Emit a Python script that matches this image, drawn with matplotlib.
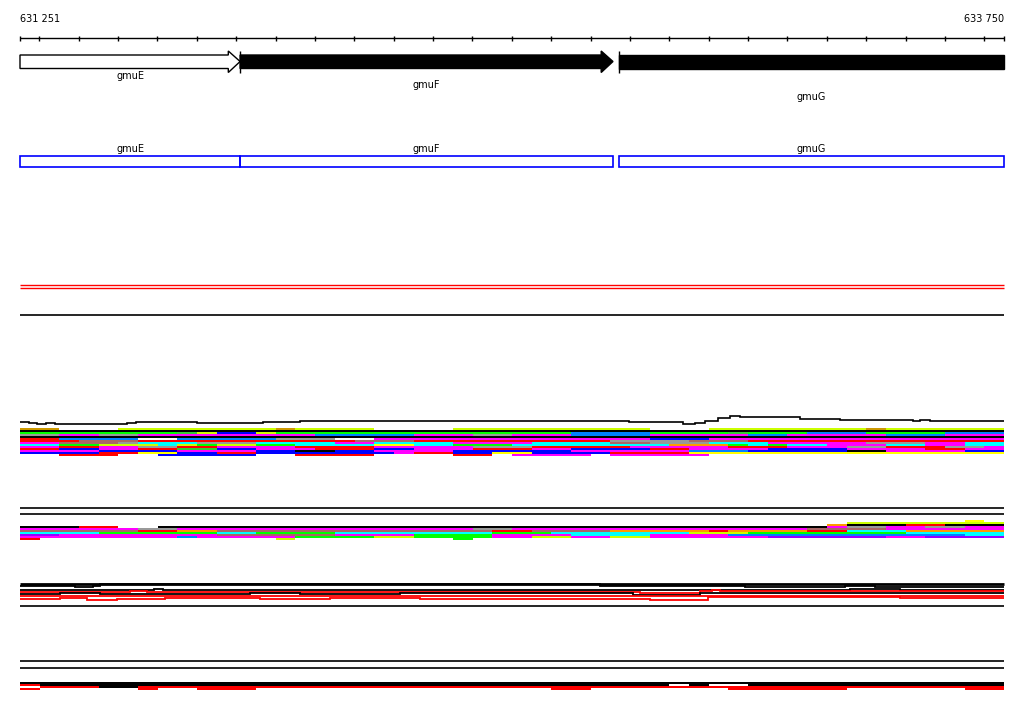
import numpy as np
import matplotlib.pyplot as plt
from matplotlib.colors import ListedColormap
from matplotlib.patches import Polygon, Rectangle

# region on screen
view_start, view_end = 631251, 633750
ticks = [631251] + list(range(631300, 633750, 100)) + [633750]

# genes
gene_names = ['gmuE', 'gmuF', 'gmuG']
gene_starts = [631251, 631810, 632772]
gene_ends = [631810, 632757, 633750]
gene_fill = ['white', 'black', 'black']
gene_open = [False, False, True]      # gmuG runs on past the view

# track 1 coverage (height above baseline, step at each edge)
cov1_edges = [631251, 631274, 631294, 631317, 631340, 631523, 631546, 631701,
              631868, 631962, 632798, 632935, 632965, 632991, 633024, 633054,
              633080, 633232, 633252, 633333, 633519, 633537, 633562, 633750]
cov1_height = [7.7, 6.7, 5.7, 6.7, 5.7, 6.7, 7.7, 6.7, 7.7, 8.7, 7.7, 6, 7, 9,
               12, 14, 12.7, 11.3, 10.7, 10, 9, 10, 9]

# stacked read rows, one char per 50 bp bin
# k black r red m magenta c cyan b blue B azure g green d dark green
# G grey y lime Y yellow o orange O olive n rose-brown p purple . none
track1_rows = [
    "OO...yyyyy" "yyyOyyyy.." "..yyyyyyyy" "yy...yyyyy" "yyyOyyyyyy",
    "kkkkkkkkkk" "kkkkkkkkkk" "kkkkkkkkkk" "kkkkkkkkkk" "kkkkkkkkkk",
    "ggggggggdy" "bbyggggggg" "ggggggggBB" "BBggggdggg" "BBBggggBBB",
    "GGmmGGmmmm" "mmmmmBBBBB" "mmmGGmmmBB" "BBmmmmmBBm" "mmmmBBBmmm",
    "kkkkkkkkkk" "kkkkkkkkkk" "kkkkkkkkkk" "kkkkkkkkkk" "kkkkkkkkkk",
    "rrBBBB..BB" "BBBGGG..mm" "mmmmmmmmmm" "mmbbbmmmmm" "mmmmmmmmmm",
    "rrrnnnrrrr" "rrrrrrrnnn" "rrrrrrrrrr" "GGGGnnnrrr" "rrrrrrrrrr",
    "mmnnnGcccG" "GGccccmmcc" "ccmmmmcccc" "nnGGGcccmm" "mmmGGGmmcc",
    "ccggyyycyg" "yyggccccYY" "ccgggccccc" "cccooogcgc" "cmmmccmmcc",
    "mmrrmmGGrr" "mmmmrrrrmm" "mmmGGGrrrr" "rmmmmmrrrm" "mmGGrrrGGm",
    "rrbbmmrrdd" "bbmmmrrrbb" "mmmrrrmmbb" "bbrrmmmmbb" "bbmmmmrrmm",
    "mmmmbbbbmm" "mmbbkkbbmm" "mmbbbbbbmm" "mmmmBBBbbb" "bbkkmmmmbb",
    "bbbbrrYYbb" "rrbbbbbbbm" "rrbbYYbbbb" "rrrrYYYYYY" "YYYYYYYYYY",
    "..rrr..bbb" "bb..rrrr.." "..rr.mmmm." "mmmmm....." "..........",
]
track2_rows = [
    ".........." ".........." ".........." ".........." "........Y.",
    ".........." ".........." ".........." ".........." "..yyyyyyyy",
    ".........." ".........." ".........." ".........." ".okkkrrkkk",
    "kkkrr..kkk" "kkkkkkkkkk" "kkkkkkkkkk" "kkkkkkkkkk" "kmGGmmGGmm",
    "mmmmmmGGmm" "mmmmmmmmmm" "mmmGGmmmmm" "mmmmmmmmmm" "nnnnmmmmmm",
    "nnnnnnrroo" "nnnnnnnnnn" "nnnnrrnnnn" "oooooroooo" "rrcccooooo",
    "ccccgggggg" "ccggggcccc" "ccccgggccc" "ccccyyyggg" "gggggccccc",
    "ppmmmmmmmm" "nnnnnnmmmm" "ggggmmmmcc" "ccmmmmBBBB" "BBBBBBBBcc",
    "mmmmmmmmBm" "mmmmggggyy" "ggggmmyymm" "yymmmmmmpp" "ppppmmpppp",
    "r........." "...y......" "..g......." ".........." "..........",
]
track4_rows = [
    "kkkkkkkkkk" "kkkkkkkkkk" "kkkkkkkkkk" "kkkkkkkkkk" "kkkkkkkkkk",
    "rkkkkkkkkk" "kkkkkkkkkk" "kkkkkkkkkk" "kkk.k..kkk" "kkkkkkkkkk",
    ".rrrkkrrrr" "rrrrrrrrrr" "rrrrrrrrrr" "rrrrrrrrrr" "rrrrrrrrrr",
    "r.....r..r" "rr........" ".......rr." "......rrrr" "rr......rr",
]
codes = {'.': '#ffffff', 'k': '#000000', 'r': '#ff0000', 'm': '#ff00ff',
         'c': '#00ffff', 'b': '#0000ff', 'B': '#0080ff', 'g': '#00ff00',
         'd': '#33cc33', 'G': '#999999', 'y': '#ccff00', 'Y': '#ffff00',
         'o': '#ff9900', 'O': '#cc9900', 'n': '#aa6666', 'p': '#9900ff'}

# track 3 profile lines (depth below the track top line)
t3_lines = [
    ([631251, 631304, 631391, 631436, 631454, 632724, 633092, 633346, 633422, 633750],
     [2.2, 2.5, 3.8, 2.5, 0.8, 2.2, 3.5, 2.5, 3.5], 'black'),
    ([631251, 631591, 631614, 631764, 631962, 633359, 633486, 633750],
     [6.3, 5.0, 6.5, 6.0, 6.5, 5.2, 6.5], 'black'),
    ([631251, 631281, 631530, 631574, 631640, 631815, 631861, 631919, 632724,
      632826, 632978, 633008, 633029, 633588, 633750],
     [8.0, 8.5, 7.5, 8.5, 8.0, 8.5, 8.0, 8.5, 8.8, 9.5, 7.5, 6.0, 7.0, 7.8], 'red'),
    ([631251, 631353, 631454, 631581, 631835, 631962, 632216, 632808, 632978,
      633003, 633750],
     [10.5, 9.5, 10.5, 10.0, 9.2, 10.0, 9.5, 11.5, 9.5, 9.2], 'black'),
    ([631251, 631454, 631708, 631962, 632216, 632724, 633024, 633750],
     [12.3, 12.5, 12.0, 12.7, 12.0, 12.5, 12.2], 'red'),
    ([631251, 631353, 631421, 631454, 631497, 631574, 631619, 631759, 631861,
      632038, 632267, 632470, 632724, 632851, 632998, 633024, 633486, 633750],
     [15.0, 14.0, 16.0, 16.5, 15.0, 15.5, 14.0, 14.5, 15.5, 14.5, 15.5, 15.0,
      15.0, 16.0, 13.5, 13.0, 14.5], 'red'),
]

fig = plt.figure(figsize=(10.24, 7.14), dpi=100)
ax = fig.add_axes([0, 0, 1, 1])
bp_px = (view_end - view_start) / 984
ax.axis('off')

# ruler
ax.hlines(38, view_start, view_end, color='black', lw=1)
ax.vlines(ticks, 35.5, 40.5, color='black', lw=1)
ax.text(view_start, 19, '631 251', fontsize=7, ha='left', va='center')
ax.text(view_end, 19, '633 750', fontsize=7, ha='right', va='center')

# gene arrows and blue boxes
head = 30
label_y = [76, 85, 97]
for name, s, e, fc, op, ly in zip(gene_names, gene_starts, gene_ends,
                                  gene_fill, gene_open, label_y):
    if op:
        ax.add_patch(Rectangle((s, 55), e - s, 13.5, fc=fc, ec='black', lw=1))
    else:
        pts = [(s, 55), (e - head, 55), (e - head, 51), (e, 61.5),
               (e - head, 72.5), (e - head, 68.5), (s, 68.5)]
        ax.add_patch(Polygon(pts, closed=True, fc=fc, ec='black', lw=1))
    if s > view_start:
        ax.vlines(s, 51, 73, color='black', lw=1)
    mid = (s + e) / 2
    ax.text(mid, ly, name, fontsize=7, ha='center', va='center')
    ax.add_patch(Rectangle((s, 155.5), e - s, 11, fc='none', ec='#0000ff', lw=1.2))
    ax.text(mid, 149, name, fontsize=7, ha='center', va='center')

# empty tracks
ax.hlines([284.5, 287.5], view_start, view_end, color='red', lw=1)
ax.hlines([315, 507.5, 513.5, 606, 660.5, 667.5], view_start, view_end,
          color='black', lw=1.2)


def draw_rows(rows, y0, dy):
    keys = list(codes)
    cmap = ListedColormap([codes[k] for k in keys])
    cmap.set_bad(alpha=0)
    idx = np.array([[keys.index(ch) for ch in row[:50].ljust(50, '.')] for row in rows])
    arr = np.ma.masked_equal(idx, keys.index('.'))
    ax.imshow(arr, cmap=cmap, vmin=-0.5, vmax=len(keys) - 0.5,
              extent=(view_start, view_end, y0 + dy * len(rows), y0),
              aspect='auto', interpolation='nearest', zorder=1)


# track 1
base1 = 430
ax.stairs(base1 - np.array(cov1_height), cov1_edges, baseline=None,
          color='black', lw=1.2, zorder=2)
draw_rows(track1_rows, 428, 2)

# track 2
draw_rows(track2_rows, 520, 2)

# track 3
top3 = 583.5
ax.hlines(top3, view_start, view_end, color='black', lw=2)
for edges, depth, col in t3_lines:
    ax.stairs(top3 + np.array(depth), edges, baseline=None, color=col, lw=1.3)

# track 4
draw_rows(track4_rows, 682.5, 2)

ax.set_xlim(view_start - 20 * bp_px, view_end + 20 * bp_px)
ax.set_ylim(714, 0)
fig.savefig('out.png', dpi=100)
